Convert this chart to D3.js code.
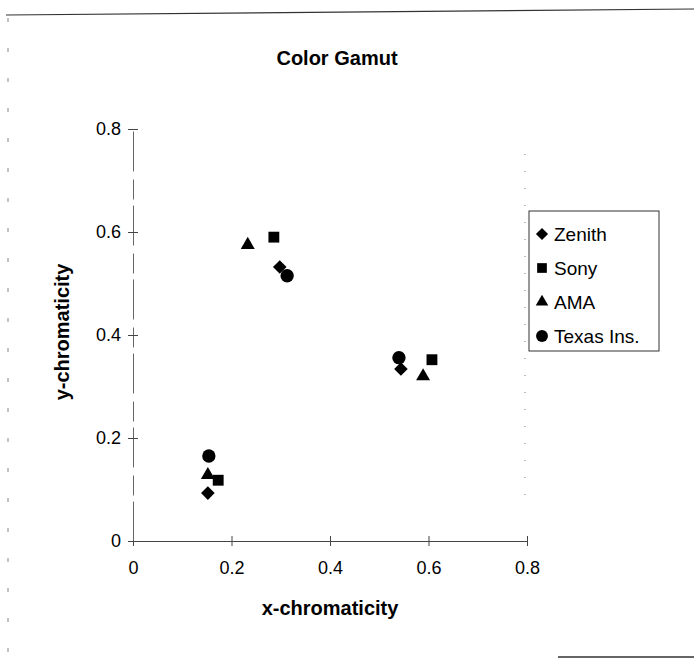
<!DOCTYPE html>
<html>
<head>
<meta charset="utf-8">
<script src="https://cdn.jsdelivr.net/npm/d3@7/dist/d3.min.js"></script>
<style>
  html, body { margin: 0; padding: 0; background: #fff; }
  svg { display: block; font-family: "Liberation Sans", Arial, sans-serif; }
</style>
</head>
<body>
<svg id="chart" width="694" height="662"></svg>
<script>
// CIE chromaticity coordinates of the red, green and blue primaries per display
const seriesNames = ["Zenith", "Sony", "AMA", "Texas Ins."];
const zenithX = [0.152, 0.298, 0.544];
const zenithY = [0.093, 0.532, 0.334];
const sonyX   = [0.173, 0.286, 0.607];
const sonyY   = [0.118, 0.590, 0.352];
const amaX    = [0.152, 0.233, 0.589];
const amaY    = [0.128, 0.575, 0.320];
const texasX  = [0.154, 0.313, 0.540];
const texasY  = [0.165, 0.515, 0.356];
const xTicks = [0, 0.2, 0.4, 0.6, 0.8];
const yTicks = [0, 0.2, 0.4, 0.6, 0.8];
const xTickLabels = ["0", "0.2", "0.4", "0.6", "0.8"];
const yTickLabels = ["0", "0.2", "0.4", "0.6", "0.8"];

const series = [
  { name: seriesNames[0], xs: zenithX, ys: zenithY, symbol: d3.symbolDiamond2,  size: 118 },
  { name: seriesNames[1], xs: sonyX,   ys: sonyY,   symbol: d3.symbolSquare2,   size: 150 },
  { name: seriesNames[2], xs: amaX,    ys: amaY,    symbol: d3.symbolTriangle2, size: 140 },
  { name: seriesNames[3], xs: texasX,  ys: texasY,  symbol: d3.symbolCircle,    size: 140 }
];

const svg = d3.select("#chart");
const plot = { left: 133, right: 527, top: 129, bottom: 541 };

const x = d3.scaleLinear().domain([0, 0.8]).range([plot.left, plot.right]);
const y = d3.scaleLinear().domain([0, 0.8]).range([plot.bottom, plot.top]);

// outer chart frame (only partly visible)
const frame = svg.append("g").attr("fill", "none");
frame.append("line").attr("x1", 6).attr("y1", 15).attr("x2", 694).attr("y2", 9)
  .attr("stroke", "#333").attr("stroke-width", 1.2);
frame.append("line").attr("x1", 8).attr("y1", 18).attr("x2", 8).attr("y2", 662)
  .attr("stroke", "#888").attr("stroke-width", 1).attr("stroke-dasharray", "4,26");
frame.append("line").attr("x1", 558).attr("y1", 657).attr("x2", 694).attr("y2", 657)
  .attr("stroke", "#333").attr("stroke-width", 1.5);

// faint plot-area border on the right
svg.append("line")
  .attr("x1", plot.right - 2).attr("y1", plot.top + 25)
  .attr("x2", plot.right - 2).attr("y2", plot.bottom - 30)
  .attr("stroke", "#777").attr("stroke-width", 1).attr("stroke-dasharray", "1,16");

// title
svg.append("text").attr("x", 337).attr("y", 65).attr("text-anchor", "middle")
  .attr("font-size", 20).attr("font-weight", "bold").text("Color Gamut");

// axes with cross tick marks
const xAxis = d3.axisBottom(x).tickValues(xTicks)
  .tickFormat((d, i) => xTickLabels[i]).tickSize(0).tickPadding(20);
const gx = svg.append("g").attr("transform", `translate(0,${plot.bottom})`).call(xAxis);
gx.select(".domain").attr("stroke", "#444").attr("stroke-width", 1);
gx.selectAll(".tick line").attr("y1", -5).attr("y2", 5).attr("stroke", "#444");
gx.selectAll(".tick text").attr("font-size", 18).attr("fill", "#000")
  .attr("font-family", "Liberation Sans, Arial, sans-serif");

const yAxis = d3.axisLeft(y).tickValues(yTicks)
  .tickFormat((d, i) => yTickLabels[i]).tickSize(0).tickPadding(12);
const gy = svg.append("g").attr("transform", `translate(${plot.left},0)`).call(yAxis);
gy.select(".domain").attr("stroke", "#666").attr("stroke-width", 1)
  .attr("stroke-dasharray", "40,6,20,8");
gy.selectAll(".tick line").attr("x1", -5).attr("x2", 5).attr("stroke", "#444");
gy.selectAll(".tick text").attr("font-size", 18).attr("fill", "#000")
  .attr("font-family", "Liberation Sans, Arial, sans-serif");

// axis titles
svg.append("text").attr("x", 330).attr("y", 615).attr("text-anchor", "middle")
  .attr("font-size", 20).attr("font-weight", "bold").text("x-chromaticity");
svg.append("text").attr("transform", "translate(69,332) rotate(-90)")
  .attr("text-anchor", "middle").attr("font-size", 20).attr("font-weight", "bold")
  .text("y-chromaticity");

// data markers
series.forEach(s => {
  const pts = s.xs.map((v, i) => [v, s.ys[i]]);
  svg.append("g").selectAll("path").data(pts).join("path")
    .attr("transform", d => `translate(${x(d[0])},${y(d[1])})`)
    .attr("d", d3.symbol(s.symbol, s.size))
    .attr("fill", "#000");
});

// legend
const legend = svg.append("g").attr("transform", "translate(529,211)");
legend.append("rect").attr("width", 130).attr("height", 140)
  .attr("fill", "#fff").attr("stroke", "#333").attr("stroke-width", 1);
const rows = legend.selectAll("g.row").data(series).join("g")
  .attr("class", "row")
  .attr("transform", (d, i) => `translate(0,${23 + i * 34})`);
rows.append("path")
  .attr("transform", "translate(13,0)")
  .attr("d", d => d3.symbol(d.symbol, d.size * 0.8)())
  .attr("fill", "#000");
rows.append("text").attr("x", 25).attr("y", 6.5)
  .attr("font-size", 19).text(d => d.name);
</script>
</body>
</html>
